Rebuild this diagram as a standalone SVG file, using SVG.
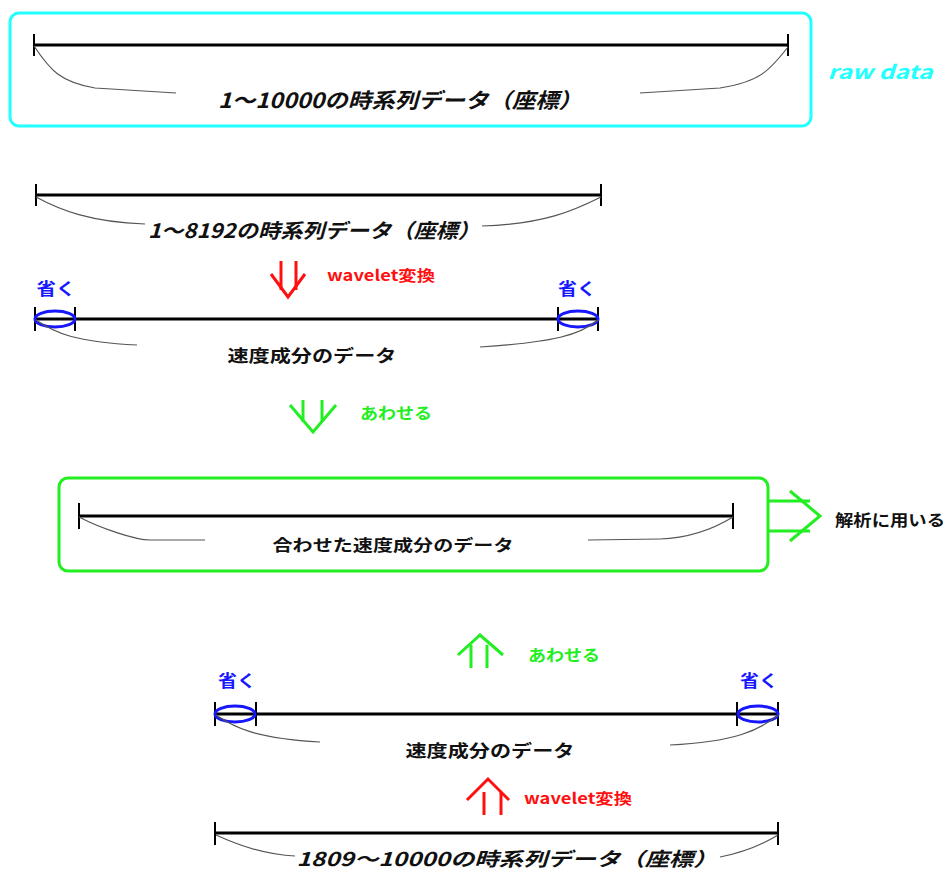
<svg xmlns="http://www.w3.org/2000/svg" width="949" height="872" viewBox="0 0 949 872">
<style>
.bar{stroke:#000;stroke-width:3;fill:none}
.tick{stroke:#000;stroke-width:2;fill:none}
.brace{stroke:#555;stroke-width:1.2;fill:none}
.t{font-family:"Noto Sans CJK JP","Noto Sans",sans-serif;font-weight:bold;fill:#111;text-anchor:middle}
.it{font-style:italic}
.red{fill:#ff1010}
.grn{fill:#22ee22}
.blu{fill:#1616ff}
.cy{fill:#22ffff}
.ell{stroke:#1616ff;stroke-width:3;fill:none}
.arR{stroke:#ff1010;stroke-width:3;fill:none;stroke-linejoin:miter}
.arG{stroke:#22ee22;stroke-width:3;fill:none}
</style>
<rect width="949" height="872" fill="#fff"/>

<g id="raw">
<rect x="10" y="13" width="801" height="113" rx="9" fill="none" stroke="#22ffff" stroke-width="3"/>
<line class="bar" x1="34" y1="45" x2="788" y2="45"/>
<line class="tick" x1="34" y1="34" x2="34" y2="56"/>
<line class="tick" x1="788" y1="34" x2="788" y2="56"/>
<path class="brace" d="M34,46 C50,70 60,82 95,88 L176,93"/>
<path class="brace" d="M788,47 C770,70 760,82 720,88 L640,93"/>
<text class="t it" x="400" y="108" font-size="21" textLength="364" lengthAdjust="spacingAndGlyphs">1～10000の時系列データ（座標）</text>
</g>
<g id="rawlabel"><text class="t it cy" x="880" y="79" font-size="19" textLength="105" lengthAdjust="spacingAndGlyphs">raw data</text></g>

<g id="seg1">
<line class="bar" x1="36" y1="195" x2="601" y2="195"/>
<line class="tick" x1="36" y1="184" x2="36" y2="206"/>
<line class="tick" x1="601" y1="184" x2="601" y2="206"/>
<path class="brace" d="M36,197 C60,210 90,222 145,224"/>
<path class="brace" d="M601,197 C575,210 545,224 482,226"/>
<text class="t it" x="314" y="238" font-size="20" textLength="332" lengthAdjust="spacingAndGlyphs">1～8192の時系列データ（座標）</text>
</g>

<g id="wave1">
<line class="arR" x1="281" y1="261" x2="281" y2="290"/>
<line class="arR" x1="296" y1="261" x2="296" y2="290"/>
<polyline class="arR" points="271,274 288,297 305,274"/>
<text class="t red" x="381" y="281" font-size="15" textLength="108" lengthAdjust="spacingAndGlyphs">wavelet変換</text>
</g>

<g id="vel1">
<text class="t blu" x="56" y="295" font-size="17" textLength="39" lengthAdjust="spacingAndGlyphs">省く</text>
<text class="t blu" x="577" y="295" font-size="17" textLength="38" lengthAdjust="spacingAndGlyphs">省く</text>
<line class="bar" x1="35" y1="319" x2="598" y2="319"/>
<line class="tick" x1="35" y1="307" x2="35" y2="331"/>
<line class="tick" x1="75" y1="307" x2="75" y2="331"/>
<line class="tick" x1="558" y1="307" x2="558" y2="331"/>
<line class="tick" x1="598" y1="307" x2="598" y2="331"/>
<ellipse class="ell" cx="55" cy="319" rx="20" ry="8"/>
<ellipse class="ell" cx="578" cy="319" rx="20" ry="8"/>
<path class="brace" d="M36,320 C55,333 75,342 137,345"/>
<path class="brace" d="M598,320 C580,335 555,342 480,347"/>
<text class="t" x="312" y="362" font-size="17" textLength="169" lengthAdjust="spacingAndGlyphs">速度成分のデータ</text>
</g>

<g id="merge1">
<line class="arG" x1="303" y1="400" x2="303" y2="422"/>
<line class="arG" x1="322" y1="400" x2="322" y2="422"/>
<polyline class="arG" points="290,405 313,432 336,405"/>
<text class="t grn" x="396" y="419" font-size="16" textLength="72" lengthAdjust="spacingAndGlyphs">あわせる</text>
</g>

<g id="combined">
<rect x="59" y="478" width="709" height="93" rx="9" fill="none" stroke="#22ee22" stroke-width="3"/>
<line class="bar" x1="79" y1="516" x2="733" y2="516"/>
<line class="tick" x1="79" y1="503" x2="79" y2="529"/>
<line class="tick" x1="733" y1="503" x2="733" y2="529"/>
<path class="brace" d="M79,517 C100,528 135,540 150,540 L205,540"/>
<path class="brace" d="M733,517 C715,528 690,538 660,539 L588,540"/>
<text class="t" x="393" y="551" font-size="16" textLength="241" lengthAdjust="spacingAndGlyphs">合わせた速度成分のデータ</text>
</g>

<g id="use">
<line class="arG" x1="768" y1="501" x2="810" y2="501"/>
<line class="arG" x1="768" y1="531" x2="810" y2="531"/>
<polyline class="arG" points="790,491 820,516 790,541"/>
<text class="t" x="890" y="526" font-size="16" textLength="110" lengthAdjust="spacingAndGlyphs">解析に用いる</text>
</g>

<g id="merge2">
<line class="arG" x1="471" y1="645" x2="471" y2="668"/>
<line class="arG" x1="487" y1="645" x2="487" y2="668"/>
<polyline class="arG" points="458,655 480,635 503,655"/>
<text class="t grn" x="564" y="661" font-size="16" textLength="72" lengthAdjust="spacingAndGlyphs">あわせる</text>
</g>

<g id="vel2">
<text class="t blu" x="237" y="687" font-size="17" textLength="38" lengthAdjust="spacingAndGlyphs">省く</text>
<text class="t blu" x="759" y="687" font-size="17" textLength="38" lengthAdjust="spacingAndGlyphs">省く</text>
<line class="bar" x1="215" y1="714" x2="778" y2="714"/>
<line class="tick" x1="215" y1="702" x2="215" y2="726"/>
<line class="tick" x1="256" y1="702" x2="256" y2="726"/>
<line class="tick" x1="737" y1="702" x2="737" y2="726"/>
<line class="tick" x1="778" y1="702" x2="778" y2="726"/>
<ellipse class="ell" cx="235" cy="714" rx="20" ry="8"/>
<ellipse class="ell" cx="758" cy="714" rx="20" ry="8"/>
<path class="brace" d="M216,715 C235,728 255,738 320,742"/>
<path class="brace" d="M778,715 C760,730 735,742 670,745"/>
<text class="t" x="490" y="757" font-size="17" textLength="169" lengthAdjust="spacingAndGlyphs">速度成分のデータ</text>
</g>

<g id="wave2">
<line class="arR" x1="484" y1="792" x2="484" y2="815"/>
<line class="arR" x1="501" y1="792" x2="501" y2="815"/>
<polyline class="arR" points="467,800 488,779 509,800"/>
<text class="t red" x="578" y="804" font-size="15" textLength="108" lengthAdjust="spacingAndGlyphs">wavelet変換</text>
</g>

<g id="seg2">
<line class="bar" x1="215" y1="833" x2="778" y2="833"/>
<line class="tick" x1="215" y1="822" x2="215" y2="845"/>
<line class="tick" x1="778" y1="822" x2="778" y2="845"/>
<path class="brace" d="M216,835 C240,846 265,855 295,856"/>
<path class="brace" d="M778,835 C760,846 740,853 720,857"/>
<text class="t it" x="507" y="866" font-size="19" textLength="421" lengthAdjust="spacingAndGlyphs">1809～10000の時系列データ（座標）</text>
</g>
</svg>
